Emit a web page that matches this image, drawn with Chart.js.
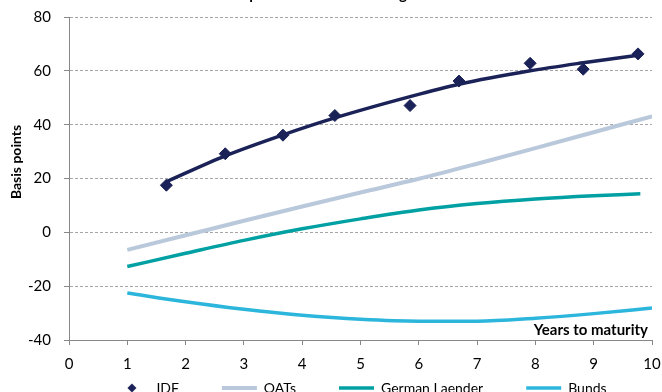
<!DOCTYPE html>
<html>
<head>
<meta charset="utf-8">
<script src="https://cdn.jsdelivr.net/npm/chart.js@4"></script>
<style>
  html, body { margin: 0; padding: 0; background: #fff; overflow: hidden; }
  #wrap { width: 662px; height: 407px; position: relative; }
</style>
</head>
<body>
<div id="wrap"><canvas id="curveChart"></canvas></div>
<script>
// Textes du graphique
const chartTitle = "Spread curves: IDF vs. agencies";
const xTitle = "Years to maturity";
const yTitle = "Basis points";

// IDF : points observés et courbe de tendance
const idfX = [1.67, 2.68, 3.67, 4.56, 5.85, 6.69, 7.91, 8.82, 9.76];
const idfY = [17.5, 29.2, 36.1, 43.4, 47.1, 56.2, 62.8, 60.6, 66.3];
const idfTrend = [18.8, 28.4, 36.2, 42.5, 50.4, 55.0, 60.0, 63.0, 65.8];

// Autres courbes
const oatX = [1, 2, 3, 4, 5, 6, 7, 8, 9, 10];
const oatY = [-6.5, -1.1, 4.3, 9.6, 14.8, 19.9, 25.5, 31.3, 37.2, 43.1];
const laenderX = [1, 2, 3, 4, 5, 6, 7, 8, 9, 9.8];
const laenderY = [-12.7, -7.8, -3.0, 1.3, 5.0, 8.3, 10.7, 12.4, 13.6, 14.3];
const bundX = [1, 2, 3, 4, 5, 6, 7, 8, 9, 10];
const bundY = [-22.5, -25.8, -28.6, -30.8, -32.3, -33.0, -33.0, -31.9, -30.2, -28.1];

// Axes
const xTicks = [0, 1, 2, 3, 4, 5, 6, 7, 8, 9, 10];
const yTicks = [-40, -20, 0, 20, 40, 60, 80];

const toPoints = (xs, ys) => xs.map((x, i) => ({ x: x, y: ys[i] }));

const FONT = "Lato, 'Open Sans', sans-serif";
const NAVY = "#1b2257";

// petit losange pour la légende IDF
const diamond = document.createElement("canvas");
diamond.width = 10;
diamond.height = 10;
(function () {
  const d = diamond.getContext("2d");
  d.fillStyle = NAVY;
  d.beginPath();
  d.moveTo(5, 0.5); d.lineTo(9.5, 5); d.lineTo(5, 9.5); d.lineTo(0.5, 5);
  d.closePath();
  d.fill();
})();

// Textes ajoutés à la main (titre coupé, titres d'axes)
const textPlugin = {
  id: "extraText",
  afterDraw(chart) {
    const ctx = chart.ctx;
    const area = chart.chartArea;
    ctx.save();
    ctx.fillStyle = "#000";
    ctx.font = "bold 15px " + FONT;
    ctx.textAlign = "center";
    ctx.textBaseline = "alphabetic";
    ctx.fillText(chartTitle, 345, -1);

    ctx.font = "bold 15px " + FONT;
    ctx.textAlign = "right";
    ctx.fillText(xTitle, area.right - 4, area.bottom - 5);

    ctx.translate(16, 162);
    ctx.rotate(-Math.PI / 2);
    ctx.textAlign = "center";
    ctx.textBaseline = "middle";
    ctx.font = "bold 14px " + FONT;
    ctx.fillText(yTitle, 0, 0);
    ctx.restore();
  }
};

const ctx = document.getElementById("curveChart").getContext("2d");
const chart = new Chart(ctx, {
  type: "line",
  data: {
    datasets: [
      {
        label: "IDF",
        type: "scatter",
        data: toPoints(idfX, idfY),
        backgroundColor: NAVY,
        borderColor: NAVY,
        pointStyle: "rectRot",
        pointRadius: 6,
        pointHoverRadius: 6,
        showLine: false,
        order: 0
      },
      {
        label: "IDF trend",
        data: toPoints(idfX, idfTrend),
        borderColor: NAVY,
        borderWidth: 3.5,
        pointRadius: 0,
        cubicInterpolationMode: "monotone",
        order: 1
      },
      {
        label: "OATs",
        data: toPoints(oatX, oatY),
        borderColor: "#b9c8da",
        backgroundColor: "#b9c8da",
        borderWidth: 4,
        pointRadius: 0,
        pointStyle: "line",
        cubicInterpolationMode: "monotone",
        order: 2
      },
      {
        label: "German Laender",
        data: toPoints(laenderX, laenderY),
        borderColor: "#00a0a3",
        backgroundColor: "#00a0a3",
        borderWidth: 3.5,
        pointRadius: 0,
        pointStyle: "line",
        cubicInterpolationMode: "monotone",
        order: 3
      },
      {
        label: "Bunds",
        data: toPoints(bundX, bundY),
        borderColor: "#2cb6dc",
        backgroundColor: "#2cb6dc",
        borderWidth: 3.5,
        pointRadius: 0,
        pointStyle: "line",
        cubicInterpolationMode: "monotone",
        order: 4
      }
    ]
  },
  options: {
    responsive: true,
    maintainAspectRatio: false,
    animation: false,
    layout: { padding: { top: 17, right: 10, left: 0, bottom: 0 } },
    plugins: {
      tooltip: { enabled: false },
      title: { display: false },
      legend: {
        position: "bottom",
        fullSize: false,
        labels: {
          usePointStyle: true,
          pointStyleWidth: 35,
          boxHeight: 6,
          padding: 43,
          color: "#000",
          font: { family: FONT, size: 14 },
          generateLabels: (c) => {
            const items = Chart.defaults.plugins.legend.labels.generateLabels(c);
            items.forEach((it) => { if (it.text === "IDF") it.pointStyle = diamond; });
            return items;
          },
          filter: (item) => item.text !== "IDF trend"
        }
      }
    },
    scales: {
      x: {
        type: "linear",
        min: 0,
        max: 10,
        afterFit: (scale) => { scale.height = -2; },
        afterBuildTicks: (scale) => { scale.ticks = xTicks.map(v => ({ value: v })); },
        ticks: {
          color: "#000",
          mirror: true,
          padding: -33,
          maxRotation: 0,
          font: { family: FONT, size: 15 }
        },
        grid: {
          drawOnChartArea: false,
          drawTicks: true,
          tickLength: 5,
          tickColor: "#888"
        },
        border: { display: true, color: "#888", width: 1 }
      },
      y: {
        min: -40,
        max: 80,
        afterFit: (scale) => {
          scale.width = 69;
          scale.paddingTop = 0;
          scale.paddingBottom = 0;
        },
        afterBuildTicks: (scale) => { scale.ticks = yTicks.map(v => ({ value: v })); },
        ticks: {
          color: "#000",
          padding: 13,
          font: { family: FONT, size: 15 }
        },
        grid: {
          color: (c) => (c.tick && c.tick.value === -40 ? "rgba(0,0,0,0)" : "#a6a6a6"),
          lineWidth: 1,
          tickLength: 5,
          tickColor: "#888"
        },
        border: { display: true, color: "#888", width: 1, dash: [3, 2] }
      }
    }
  },
  plugins: [textPlugin]
});
</script>
</body>
</html>
